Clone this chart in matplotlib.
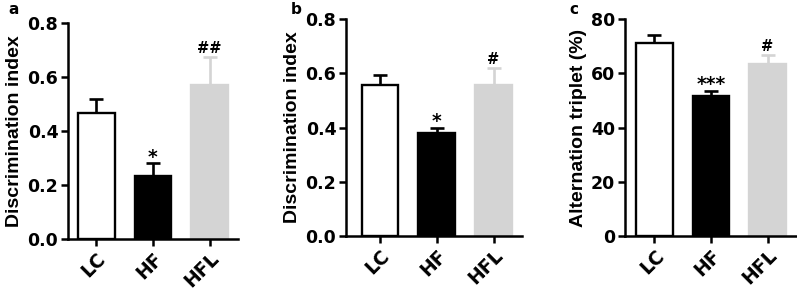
import matplotlib
matplotlib.use("Agg")
import matplotlib.pyplot as plt

# --- Data ---
groups = ["LC", "HF", "HFL"]
disc_a = [0.467, 0.233, 0.568]
disc_a_err = [0.050, 0.047, 0.104]
disc_b = [0.558, 0.381, 0.556]
disc_b_err = [0.034, 0.019, 0.063]
alt_c = [71.3, 51.7, 63.4]
alt_c_err = [2.7, 1.9, 3.2]
marks_a = ["", "*", "##"]
marks_b = ["", "*", "#"]
marks_c = ["", "***", "#"]

# --- Style ---
plt.rcParams["font.family"] = ["DejaVu Sans"]
plt.rcParams["font.weight"] = "bold"
face_colors = ["white", "black", "#d4d4d4"]
edge_colors = ["black", "black", "#d4d4d4"]

fig = plt.figure(figsize=(7.97, 2.91), dpi=100)

panels = [
    # rect, values, errors, marks, ylabel, ymax, ticks, fmt, xlim, letter, letter pos (px)
    ([0.0853, 0.1787, 0.2133, 0.7433], disc_a, disc_a_err, marks_a,
     "Discrimination index", 0.8, [0, 0.2, 0.4, 0.6, 0.8], "{:.1f}", (-0.5, 2.5), "a", (14, 10)),
    ([0.4341, 0.1890, 0.2208, 0.7457], disc_b, disc_b_err, marks_b,
     "Discrimination index", 0.8, [0, 0.2, 0.4, 0.6, 0.8], "{:.1f}", (-0.6, 2.5), "b", (296, 10)),
    ([0.7842, 0.1890, 0.2158, 0.7457], alt_c, alt_c_err, marks_c,
     "Alternation triplet (%)", 80, [0, 20, 40, 60, 80], "{:.0f}", (-0.52, 2.52), "c", (574, 10)),
]

for rect, vals, errs, marks, ylab, ymax, ticks, fmt, xlim, letter, lpos in panels:
    ax = fig.add_axes(rect)
    x = range(len(groups))
    for i in x:
        ax.bar(i, vals[i], width=0.65, color=face_colors[i],
               edgecolor=edge_colors[i], linewidth=1.7, zorder=2)
        ax.errorbar(i, vals[i], yerr=[[0], [errs[i]]], fmt="none",
                    ecolor=edge_colors[i], elinewidth=1.9, capsize=4.8,
                    capthick=1.9, zorder=1)
        if marks[i]:
            # asterisks sit high in the em box, so pull them down to the cap
            if "*" in marks[i]:
                size, dy = 13.5, 0.5
            else:
                size, dy = 10.5, 3
            ax.annotate(marks[i], (i, vals[i] + errs[i]), xytext=(0, dy),
                        textcoords="offset points", ha="center", va="baseline",
                        fontsize=size, fontweight="bold")
    ax.set_xlim(*xlim)
    ax.set_ylim(0, ymax)
    ax.set_yticks(ticks)
    ax.set_yticklabels([fmt.format(t) for t in ticks])
    ax.set_xticks(list(x))
    ax.set_xticklabels(groups, rotation=45, ha="right", rotation_mode="anchor")
    ax.set_ylabel(ylab, fontsize=14, fontweight="bold", labelpad=3,
                  family=["Liberation Sans", "DejaVu Sans"])
    ax.spines["top"].set_visible(False)
    ax.spines["right"].set_visible(False)
    ax.spines["left"].set_linewidth(1.8)
    ax.spines["bottom"].set_linewidth(1.8)
    ax.tick_params(width=1.8, length=5, pad=2)
    ax.tick_params(axis="y", labelsize=12.5)
    ax.tick_params(axis="x", labelsize=13.5)
    for lab in ax.get_xticklabels() + ax.get_yticklabels():
        lab.set_fontweight("bold")
    fig.text(lpos[0] / 797, 1 - lpos[1] / 291, letter, ha="center", va="center",
             fontsize=11, fontweight="bold")

fig.savefig("out.png", dpi=100)
